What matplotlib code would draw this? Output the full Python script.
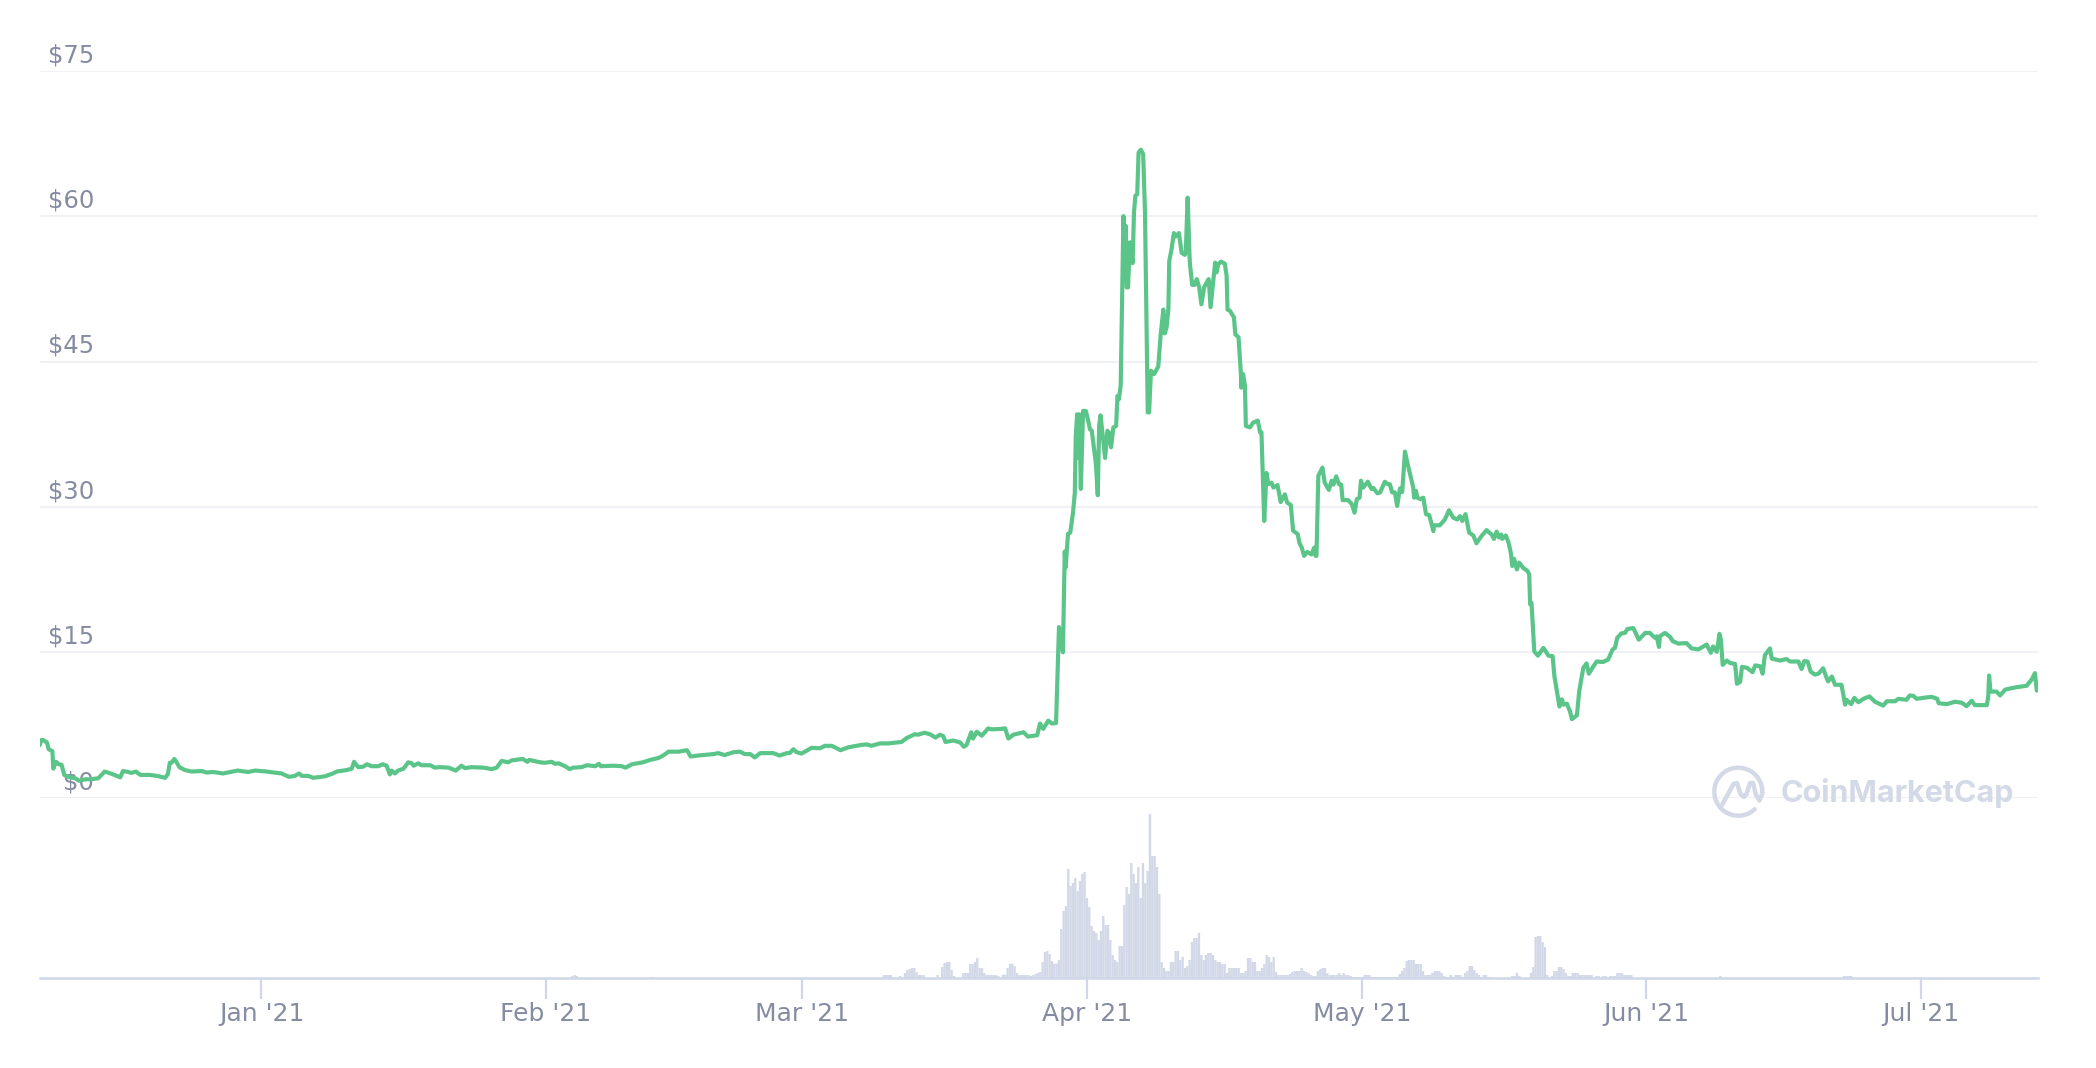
import matplotlib
matplotlib.use("Agg")
import matplotlib.pyplot as plt
import numpy as np
from matplotlib.patches import Arc
from matplotlib.transforms import ScaledTranslation

# ---- data: day number counted from 1 Jan 2021, price in USD ----
days_winter = [-24.2,-24.0,-23.8,-23.4,-23.2,-22.8,-22.7,-22.4,-22.1,-21.8,-21.5,-21.1,-20.3,-19.9,-19.2,-18.7,-17.8,-17.1,-16.3,-15.4,-15.1,-14.5,-14.2,-13.7,-13.2,-12.2,-11.4,-10.5,-10.2,-10.0,-9.8,-9.5,-9.25,-8.95,-8.35,-7.6,-6.5,-6.0,-5.25,-4.2,-2.6,-1.45,-0.7,0.55,1.3,2.2,3.0,3.65,4.1,4.4,5.1,5.65,6.9,7.8,8.2,9.3,9.85,10.1,10.55,11.1,11.5,12.0,12.75,13.2,13.65,14.0,14.2,14.55,14.9,15.5,16.0,16.4,16.6,17.1,17.45,18.4,18.9,
    19.5,20.4,21.2,21.8,22.2,22.9,24.2,25.1,25.65,26.2,26.9,27.3,28.5,29.0,29.2,30.4,30.9,31.65,32.0,32.4,33.1,33.6,34.0,34.9,35.5,36.4,36.8,37.0,38.4,39.3,39.7,40.4,41.6,42.4,43.3,43.8,44.4,45.5,46.4,46.8,47.6,49.3,49.8,50.5,51.5,52.2,52.7,53.3,53.8,54.4,55.8,56.5,57.3]
prices_winter = [5.4,5.95,5.95,5.7,5.0,4.8,3.0,3.7,3.45,3.4,2.35,2.15,2.0,1.75,1.9,1.9,2.0,2.7,2.45,2.1,2.75,2.65,2.55,2.7,2.35,2.35,2.25,2.05,2.45,3.6,3.6,4.0,3.65,3.15,2.85,2.7,2.75,2.6,2.65,2.5,2.8,2.65,2.8,2.7,2.6,2.5,2.15,2.25,2.5,2.25,2.25,2.05,2.2,2.5,2.7,2.85,3.0,3.7,3.15,3.2,3.45,3.25,3.25,3.45,3.3,2.4,2.8,2.5,2.8,3.0,3.65,3.55,3.3,3.55,3.35,3.35,3.1,
    3.15,3.1,2.8,3.3,3.05,3.15,3.1,2.95,3.1,3.8,3.65,3.85,4.0,3.7,3.9,3.65,3.6,3.7,3.5,3.55,3.25,2.95,3.1,3.15,3.35,3.25,3.5,3.25,3.3,3.25,3.1,3.45,3.65,3.9,4.1,4.35,4.75,4.75,4.9,4.25,4.35,4.5,4.6,4.4,4.7,4.75,4.5,4.5,4.15,4.6,4.6,4.35,4.6]
days_march = [57.6,58.0,58.35,58.9,60.0,60.9,61.45,62.2,63.15,64.0,65.45,66.05,66.5,67.45,68.35,69.8,70.35,71.25,71.6,72.3,72.9,73.5,74.0,74.35,74.6,75.45,76.2,76.6,76.9,77.4,77.6,78.0,78.55,79.25,79.6,80.7,81.1,81.45,82.0,83.1,83.6,84.6,84.9,85.25,85.8,86.2,86.65,86.97,87.4]
prices_march = [4.6,5.0,4.7,4.55,5.15,5.1,5.35,5.35,4.9,5.2,5.45,5.5,5.35,5.6,5.6,5.75,6.15,6.55,6.5,6.7,6.55,6.2,6.5,6.35,5.75,5.9,5.7,5.25,5.45,6.75,6.1,6.8,6.4,7.15,7.05,7.1,7.15,6.1,6.5,6.75,6.3,6.45,7.65,7.1,7.95,7.65,7.7,17.6,15.0]
days_spike = [87.6,87.7,87.95,88.2,88.5,88.7,88.8,88.95,89.05,89.2,89.35,89.6,89.9,90.15,90.35,90.55,90.8,91.0,91.2,91.35,91.5,91.7,92.0,92.25,92.4,92.65,92.9,93.2,93.35,93.5,93.7,94.0,94.15,94.25,94.35,94.5,94.7,95.0,95.15,95.3,95.5,95.65,95.9,96.15,96.35,96.65,96.8,97.0,97.35,97.8,98.05,98.35,98.5,98.7,98.9,99.0,99.25,99.5,99.7,100.05,100.35,100.7,100.8,101.0,101.2,101.25,101.5,101.75,102.0,102.25,102.5,102.8,103.05,103.3,103.5,104.0,104.15,104.35,104.65,105.05,105.25,105.35,105.6,106.05,106.2,106.55,106.8,106.85,107.05,107.25,107.35,107.8,108.15,108.65,108.9,109.05,109.35,109.6,109.8,110.15,110.35,110.8,111.15,111.6,111.85,112.25,112.5,113.0,113.2,113.45,113.7,114.05,114.5,114.8,114.95]
prices_spike = [25.4,23.75,27.2,27.35,29.4,31.5,37.35,39.55,35.1,39.55,31.85,39.9,39.9,38.9,38.0,37.85,35.95,34.4,31.2,38.35,39.45,37.7,35.05,37.85,37.7,36.15,38.2,38.35,41.45,41.1,42.5,60.0,56.25,59.0,52.65,52.65,57.3,55.15,60.4,62.1,62.25,66.55,66.85,66.4,60.4,39.75,39.75,44.05,43.7,44.5,47.65,50.35,47.9,48.5,50.4,55.4,56.6,58.25,57.9,58.25,56.2,56.0,56.25,61.9,56.1,55.05,52.9,52.9,53.5,52.7,50.9,52.65,53.1,53.5,50.6,55.2,54.2,55.05,55.3,55.1,53.85,50.35,50.25,49.55,47.8,47.5,43.85,42.3,43.7,42.5,38.35,38.2,38.7,38.9,37.7,37.7,28.55,33.5,32.35,32.5,32.0,32.25,30.5,31.3,30.45,30.2,27.55,27.2,26.25,25.8,24.95,25.35,25.1,25.8,24.95]
days_decline = [115.05,115.25,115.7,115.95,116.4,116.7,116.9,117.2,117.5,117.75,117.9,118.5,118.9,119.2,119.45,119.75,119.9,120.15,120.65,121.05,121.25,121.7,122.0,122.5,122.8,123.05,123.3,123.6,123.85,124.15,124.4,124.7,124.95,125.6,125.7,125.9,126.05,126.4,126.7,127.0,127.35,127.8,127.85,128.5,129.05,129.5,129.95,130.4,130.7,130.95,131.3,131.7,132.15,132.5,133.05,133.6,134.15,134.4,134.7,134.95,135.2,135.3,135.7,136.0,136.25,136.4,136.6,136.9,137.15,137.6,138.05,138.25,138.35,138.5,138.8,139.2,139.8,140.35,140.8,141.0,141.55,141.8,142.0,142.35,142.7,142.9,143.45,143.7,143.95,144.15,144.5,144.75,145.15,145.6,146.3,146.85,147.35,147.6,147.85,148.3,148.7,148.95,149.6,150.2,150.9,151.4,151.95,152.15,152.4,152.5,153.05,153.6,153.9,154.5,155.4,155.95,156.7,157.6,158.05,158.3,158.7,159.0,159.15,159.35,159.8,160.15,160.7,160.9,161.25,161.45,162.0,162.6,162.9,163.45,163.7,163.95,164.5,164.7,165.6,166.3,166.7]
prices_decline = [24.95,33.2,34.05,32.5,31.75,32.7,32.3,33.15,32.35,32.3,30.7,30.7,30.3,29.4,30.8,30.95,32.7,32.0,32.6,31.85,31.95,31.4,31.5,32.6,32.35,32.35,31.5,31.5,30.1,31.9,31.55,35.7,34.6,32.0,30.95,31.65,30.95,30.8,30.95,29.25,29.15,27.5,28.1,28.1,28.7,29.65,28.9,28.7,29.05,28.55,29.25,27.35,27.05,26.25,27.0,27.6,27.15,26.7,27.45,26.85,27.15,26.7,27.05,26.3,25.25,23.9,24.65,23.55,24.25,23.7,23.4,23.05,19.95,20.1,15.1,14.65,15.45,14.65,14.6,12.5,9.4,10.15,9.6,9.7,8.9,8.1,8.5,10.95,12.35,13.4,13.85,12.8,13.4,14.05,14.0,14.25,15.3,15.45,16.5,16.95,17.0,17.4,17.5,16.3,17.0,17.0,16.5,16.65,15.55,16.65,17.0,16.6,16.15,15.9,15.95,15.4,15.3,15.8,14.95,15.6,15.05,16.9,16.3,13.7,14.15,13.9,13.8,11.75,11.95,13.5,13.4,12.95,13.65,13.55,12.8,14.7,15.4,14.35,14.15,14.3,14.05]
days_summer = [167.6,167.95,168.25,168.6,168.95,169.4,169.8,170.3,170.7,170.85,171.25,171.6,172.3,172.7,172.85,173.35,173.7,174.15,174.7,175.35,175.95,176.85,177.25,178.15,178.5,179.4,179.75,180.15,180.5,181.6,182.15,182.75,182.9,183.75,184.7,185.4,185.95,186.5,186.85,188.15,188.3,188.4,188.55,189.2,189.6,190.15,190.85,191.4,192.5,193.05,193.4,193.6]
prices_summer = [14.05,13.28,14.1,14.05,13.0,12.7,12.8,13.35,12.3,12.0,12.5,11.65,11.65,9.6,10.1,9.65,10.3,9.85,10.2,10.45,9.9,9.5,9.95,9.95,10.2,10.1,10.55,10.5,10.2,10.35,10.4,10.2,9.75,9.65,9.9,9.8,9.45,10.0,9.55,9.55,10.4,12.6,10.95,10.95,10.55,11.15,11.3,11.4,11.55,12.2,12.85,11.05]

# volume (arbitrary units), one bar per sample
vol_spring_start = 67.88
vol_spring = [3,3,3,3,0,0,0,2,0,5,8,9,10,10,6,3,3,3,0,0,0,0,0,3,0,11,15,16,16,8,2,0,0,0,5,5,5,14,14,16,20,10,10,5,3,3,3,3,3,2,0,
    3.3,3.5,10,14.3,14.3,12,5,3,3,3,3,3,2,3,4,5,6,16,26,27,24,17,14.3,14.3,18,49,67,72,109,92,95,100,87,97,104,106,80,71,52,47,45,38,47,62,53,53,38,23,18,16,32,32,73,91,84,115,104,95,111,80,115,95,107,164,122,122,111,84,16,10,7,7,16,16,27,27,18,21,10,12,18,36,40,40,45,23,18,23,25,25,23,18,16,16,14,14,5,10,10,10,10,10,5,5,7,20,20,16,16,7,7,10,14,23,21,16,21,6,3,3,3,3,3,4,6,7,7,7,10,7,6,5,3,2,2,7,9,10,10,5,3,3,3,3,5,3,5,3,3,2,1,1,1,1,1,3,3,3,1,1,1,1,1,1,1,1,1,1,1,1,4,7,10,17,18,18,18,14,14,14,7,3,3,3,5,7,7,7,5,2,1,1,3,1,3,3,3,1,5,7,12,12,8,5,3,1,3,3,1]
vol_may_start = 136.4
vol_may = [2,2,5,2,0,0,0,0,5,11,41,42,42,36,31,3,0,2,7,7,11,11,9,5,2,2,5,5,5,3,3,3,3,3,3,0,2,2,0,2,2,0,2,2,2,5,5,5,3,3,3,3]
vol_misc_days = [33.9,34.15,34.4,42.5,159.1,172.6,172.85,173.1,173.35]
vol_misc = [2,3,2,1,2,2,2,2,2]

tick_days = [0,31,59,90,120,151,181]
tick_names = ["Jan '21","Feb '21","Mar '21","Apr '21","May '21","Jun '21","Jul '21"]
price_ticks = [0,15,30,45,60,75]

# ---- layout (pixels of the 2096x1068 canvas) ----
W, H = 2096, 1068
L, R = 40, 2037.7
Y0, Y75 = 797.7, 70.7
BASE = 978
GREY = "#858CA2"
GRID = "#F0F1F6"
AXC = "#D0D7E8"
GREEN = "#5BC589"
XL = (-24.15, 193.7)

fig = plt.figure(figsize=(W/100, H/100), dpi=100, facecolor="white")
plt.rcParams['font.family'] = ['DejaVu Sans']

ax_v = fig.add_axes([L/W, (H-BASE)/H, (R-L)/W, 170/H])
ax_p = fig.add_axes([L/W, (H-Y0)/H, (R-L)/W, (Y0-Y75)/H], sharex=ax_v)
ax_p.patch.set_alpha(0)

# volume
sp_days = vol_spring_start + np.arange(len(vol_spring))*0.2545
may_days = vol_may_start + np.arange(len(vol_may))*0.2545
for d, v in ((sp_days, vol_spring), (may_days, vol_may), (vol_misc_days, vol_misc)):
    bars = ax_v.bar(d, v, width=0.2545, color="#D2D8E7", linewidth=0)
    for b in bars:
        b.set_snap(False)
ax_v.set_ylim(0, 170)
ax_v.set_xlim(*XL)
ax_v.set_yticks([])
for s in ("top", "left", "right"):
    ax_v.spines[s].set_visible(False)
ax_v.spines["bottom"].set_color(AXC)
ax_v.spines["bottom"].set_linewidth(1.8)
ax_v.set_xticks(tick_days, tick_names)
ax_v.tick_params(axis="x", length=15, width=1.6, color=AXC, labelcolor=GREY, labelsize=18, pad=2)
ax_v.set_facecolor("none")

# price
days = days_winter + days_march + days_spike + days_decline + days_summer
prices = prices_winter + prices_march + prices_spike + prices_decline + prices_summer
ax_p.plot(days, prices, color=GREEN, lw=3.0, solid_joinstyle="round", solid_capstyle="round", zorder=3)
ax_p.set_ylim(0, 75)
ax_p.set_xlim(*XL)
ax_p.set_yticks(price_ticks, [f"${v}" for v in price_ticks])
ax_p.tick_params(axis="y", length=0, pad=-54*0.72, labelcolor=GREY, labelsize=17.5)
ax_p.tick_params(axis="x", length=0, labelbottom=False)
up = ScaledTranslation(0, 18/100, fig.dpi_scale_trans)
for lab in ax_p.get_yticklabels():
    lab.set_ha("right")
    lab.set_transform(lab.get_transform() + up)
    lab.set_zorder(5)
ax_p.grid(axis="y", color=GRID, lw=1.5, zorder=0)
ax_p.set_axisbelow(True)
for s in ax_p.spines.values():
    s.set_visible(False)

# watermark
ax_o = fig.add_axes([0, 0, 1, 1], zorder=10)
ax_o.set_xlim(0, W); ax_o.set_ylim(H, 0); ax_o.axis("off"); ax_o.patch.set_alpha(0)
WM = "#D3D9E7"
ax_o.add_patch(Arc((1738.3, 791.7), 48, 48, theta1=47, theta2=360, color=WM, lw=3.2, capstyle="round"))
ax_o.plot([1722,1733.5,1737,1740.5,1744,1746.5,1750,1753,1756,1759.5,1762.5],
          [805,784,783,794,797,794,783,783,795,800.5,793],
          color=WM, lw=3.2, solid_joinstyle="round", solid_capstyle="round")
ax_o.text(1781, 793, "CoinMarketCap", color=WM, fontsize=22, family="Inter", weight="bold", ha="left", va="center")

fig.savefig("out.png", dpi=100, facecolor="white")
